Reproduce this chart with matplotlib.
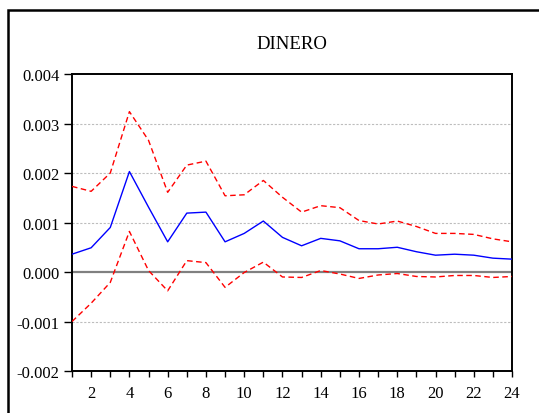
import numpy as np
import matplotlib.pyplot as plt
from matplotlib.patches import Rectangle

# Impulse response of DINERO with +/- 2 S.E. bands
periods = list(range(1, 25))
response = [0.00036, 0.00049, 0.00090, 0.00203, 0.00131, 0.00061, 0.00119, 0.00121,
            0.00061, 0.00078, 0.00103, 0.00070, 0.00053, 0.00068, 0.00063, 0.00047,
            0.00047, 0.00050, 0.00041, 0.00034, 0.00036, 0.00034, 0.00028, 0.00026]
upper = [0.00173, 0.00163, 0.00200, 0.00324, 0.00266, 0.00161, 0.00216, 0.00224,
         0.00154, 0.00156, 0.00185, 0.00151, 0.00121, 0.00134, 0.00130, 0.00104,
         0.00097, 0.00103, 0.00092, 0.00078, 0.00078, 0.00076, 0.00067, 0.00061]
lower = [-0.00100, -0.00063, -0.00021, 0.00082, 0.00003, -0.00038, 0.00023, 0.00019,
         -0.00031, -0.00001, 0.00020, -0.00010, -0.00011, 0.00003, -0.00004, -0.00013,
         -0.00006, -0.00003, -0.00009, -0.00010, -0.00007, -0.00007, -0.00011, -0.00009]
yticks = [-0.002, -0.001, 0.000, 0.001, 0.002, 0.003, 0.004]

plt.rcParams['font.family'] = ['Liberation Serif', 'DejaVu Serif']

fig = plt.figure(figsize=(5.39, 4.14), dpi=100)
ax = fig.add_axes([0.1336, 0.1014, 0.8164, 0.7174])

# outer frame around the panel
fig.patches.append(Rectangle((8 / 539, -0.1), 1.2, (414 - 10.5) / 414 + 0.1,
                             transform=fig.transFigure, fill=False,
                             edgecolor='black', linewidth=1.8))

for y in [-0.001, 0.001, 0.002, 0.003]:
    ax.axhline(y, color='#bdbdbd', linestyle=(0, (2, 1.5)), linewidth=0.8, zorder=1)
ax.axhline(0, color='#808080', linewidth=1.6, zorder=1)

ax.plot(periods, upper, color='red', linestyle=(0, (4, 2.5)), linewidth=1.0, zorder=3)
ax.plot(periods, lower, color='red', linestyle=(0, (4, 2.5)), linewidth=1.0, zorder=3)
ax.plot(periods, response, color='blue', linewidth=1.0, zorder=4)

ax.set_xlim(1, 24)
ax.set_ylim(-0.002, 0.004)
ax.set_xticks(periods)
ax.set_xticklabels([str(p) if p % 2 == 0 else '' for p in periods])
ax.set_yticks(yticks)
ax.set_yticklabels([f'{v:.3f}' for v in yticks])

ax.tick_params(axis='y', direction='out', length=6, width=1, labelsize=12, pad=3)
ax.tick_params(axis='x', direction='out', length=4, width=1, labelsize=12, pad=6)
for s in ax.spines.values():
    s.set_linewidth(1.4)

ax.set_title('DINERO', fontsize=13.5, pad=19)

fig.savefig('out.png', dpi=100)
